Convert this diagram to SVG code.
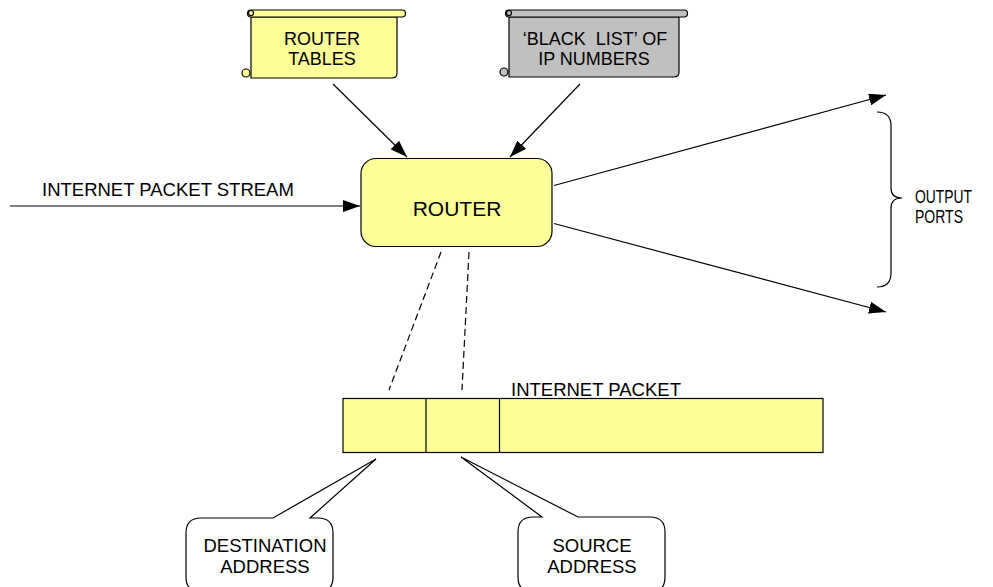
<svg xmlns="http://www.w3.org/2000/svg" width="993" height="587" viewBox="0 0 993 587">
<style>
text{font-family:"Liberation Sans",Arial,sans-serif;font-size:18.5px;fill:#000}
.c{text-anchor:middle}
.s{font-size:18px}
.y{fill:#FFFF99;stroke:#000;stroke-width:1.2}
.g{fill:#C0C0C0;stroke:#000;stroke-width:1.2}
.w{fill:#fff;stroke:#000;stroke-width:1.2}
.ln{stroke:#000;stroke-width:1.2;fill:none}
.ar{marker-end:url(#ah)}
.ds{stroke-dasharray:7,4}
</style>
<defs>
<marker id="ah" markerWidth="17" markerHeight="12" refX="17" refY="6" orient="auto" markerUnits="userSpaceOnUse">
<path d="M0,0 L17,6 L0,12 Z" fill="#000"/>
</marker>
</defs>
<rect width="993" height="587" fill="#fff"/>

<g id="connectors">
<line class="ln ar" x1="333" y1="84" x2="407" y2="157"/>
<line class="ln ar" x1="580" y1="84" x2="510" y2="157"/>
<line class="ln ar" x1="10" y1="206" x2="360" y2="206"/>
<line class="ln ar" x1="554" y1="185.5" x2="886" y2="95"/>
<line class="ln ar" x1="554" y1="223.5" x2="886" y2="312"/>
<line class="ln ds" x1="441" y1="252" x2="389" y2="390"/>
<line class="ln ds" x1="469" y1="252" x2="462" y2="390"/>
</g>

<g id="router-tables">
<path class="y" d="M251,17 H397 V73 Q397,78 392,78 H251 Z"/>
<path class="y" d="M251,10 H402 A3.5,3.5 0 0 1 402,17 H251 A3.5,3.5 0 0 1 251,10 Z"/>
<circle class="y" cx="251" cy="13" r="2.5"/>
<circle class="y" cx="246" cy="73" r="4"/>
<text class="c s" x="322" y="45">ROUTER</text>
<text class="c s" x="322" y="65">TABLES</text>
</g>

<g id="black-list">
<path class="g" d="M509,17 H679 V72 Q679,77 674,77 H509 Z"/>
<path class="g" d="M509,10 H684 A3.5,3.5 0 0 1 684,17 H509 A3.5,3.5 0 0 1 509,10 Z"/>
<circle class="g" cx="509" cy="13" r="2.5"/>
<circle class="g" cx="504" cy="72" r="4"/>
<text class="c s" x="595" y="45" xml:space="preserve">‘BLACK  LIST’ OF</text>
<text class="c s" x="594" y="65">IP NUMBERS</text>
</g>

<g id="router">
<rect class="y" x="361" y="158.5" width="191" height="88" rx="15" ry="15"/>
<text class="c" x="457" y="216" style="font-size:21px">ROUTER</text>
</g>

<g id="stream-label">
<text x="42" y="196">INTERNET PACKET STREAM</text>
</g>

<g id="output-ports">
<path class="ln" d="M877,112 Q891,112 891,126 V188 Q891,198 902,198 Q891,198 891,208 V273 Q891,287 877,287"/>
<text x="915" y="203" textLength="57" lengthAdjust="spacingAndGlyphs">OUTPUT</text>
<text x="915" y="223" textLength="48" lengthAdjust="spacingAndGlyphs">PORTS</text>
</g>

<g id="packet">
<rect class="y" x="343" y="398.5" width="480" height="54"/>
<line class="ln" x1="426" y1="398.5" x2="426" y2="452.5"/>
<line class="ln" x1="499.5" y1="398.5" x2="499.5" y2="452.5"/>
<text x="511" y="396">INTERNET PACKET</text>
</g>

<g id="destination-callout">
<path class="w" d="M201,518 H273 L376,459 L310,518 H318 Q333,518 333,533 V577 Q333,592 318,592 H201 Q186,592 186,577 V533 Q186,518 201,518 Z"/>
<text class="c" x="265" y="552">DESTINATION</text>
<text class="c" x="265" y="573">ADDRESS</text>
</g>

<g id="source-callout">
<path class="w" d="M533,517 H542 L461,457 L578,517 H650 Q665,517 665,532 V577 Q665,592 650,592 H533 Q518,592 518,577 V532 Q518,517 533,517 Z"/>
<text class="c" x="592" y="552">SOURCE</text>
<text class="c" x="592" y="573">ADDRESS</text>
</g>
</svg>
